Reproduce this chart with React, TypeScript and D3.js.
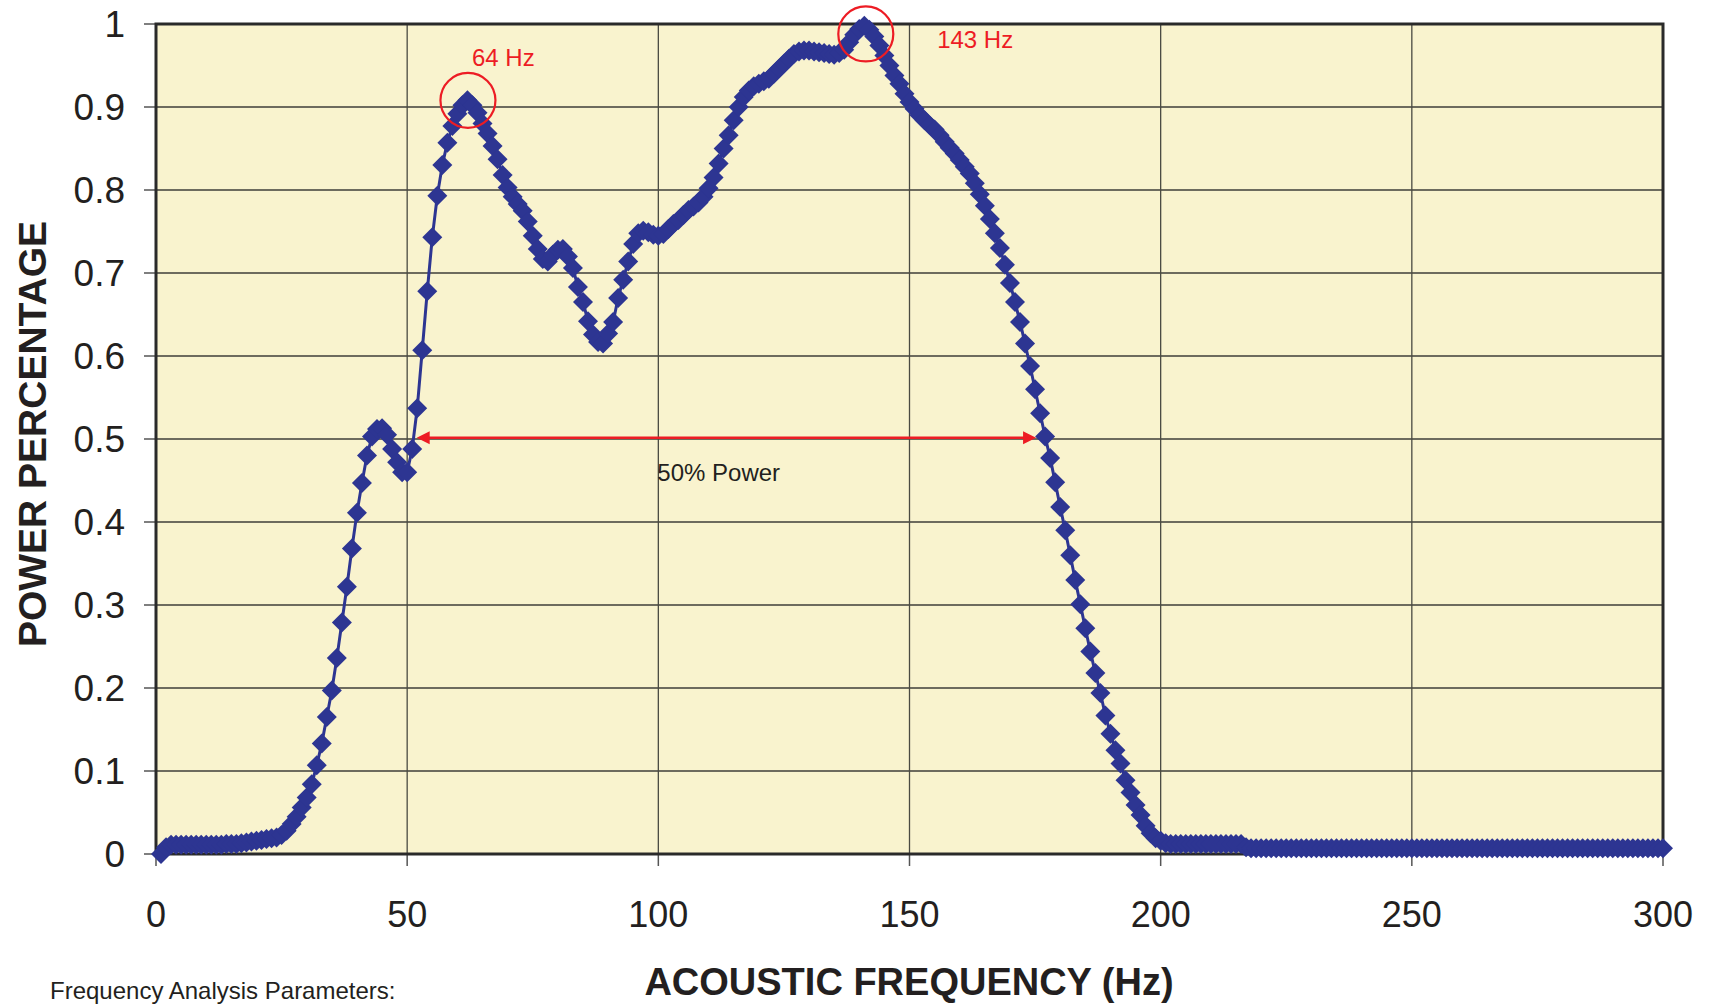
import React, { useEffect } from 'react';
import * as d3 from 'd3';

// Frequency grid of the spectrum (Hz) – first sample and spacing
const FREQ_START = 1;
const FREQ_STEP = 1;

// Normalised power, one value per frequency sample (1..300 Hz)
const POWER: number[] = [
  0.000, 0.008, 0.011, 0.011, 0.011, 0.011, 0.011, 0.011, 0.011, 0.011,
  0.011, 0.011, 0.011, 0.012, 0.012, 0.012, 0.013, 0.014, 0.015, 0.016,
  0.017, 0.018, 0.019, 0.020, 0.023, 0.028, 0.036, 0.045, 0.056, 0.068,
  0.084, 0.107, 0.133, 0.165, 0.197, 0.236, 0.279, 0.322, 0.368, 0.411,
  0.447, 0.480, 0.503, 0.512, 0.513, 0.505, 0.488, 0.472, 0.460, 0.460,
  0.488, 0.537, 0.607, 0.678, 0.743, 0.793, 0.830, 0.857, 0.877, 0.892,
  0.902, 0.908, 0.902, 0.893, 0.880, 0.868, 0.853, 0.837, 0.818, 0.803,
  0.792, 0.783, 0.775, 0.762, 0.745, 0.729, 0.717, 0.714, 0.722, 0.728,
  0.729, 0.720, 0.706, 0.683, 0.665, 0.642, 0.626, 0.617, 0.615, 0.627,
  0.641, 0.670, 0.692, 0.714, 0.735, 0.748, 0.751, 0.749, 0.746, 0.745,
  0.747, 0.753, 0.759, 0.764, 0.770, 0.776, 0.780, 0.785, 0.792, 0.802,
  0.815, 0.832, 0.850, 0.866, 0.884, 0.900, 0.912, 0.920, 0.925, 0.928,
  0.931, 0.934, 0.940, 0.946, 0.952, 0.958, 0.964, 0.967, 0.968, 0.968,
  0.967, 0.966, 0.965, 0.964, 0.963, 0.965, 0.969, 0.978, 0.987, 0.994,
  0.998, 0.993, 0.985, 0.974, 0.962, 0.950, 0.938, 0.928, 0.916, 0.906,
  0.898, 0.890, 0.884, 0.878, 0.873, 0.866, 0.858, 0.851, 0.844, 0.836,
  0.828, 0.820, 0.808, 0.795, 0.781, 0.765, 0.748, 0.730, 0.710, 0.688,
  0.665, 0.641, 0.615, 0.588, 0.560, 0.531, 0.503, 0.477, 0.448, 0.418,
  0.390, 0.360, 0.330, 0.301, 0.272, 0.244, 0.218, 0.194, 0.167, 0.145,
  0.125, 0.109, 0.089, 0.074, 0.059, 0.047, 0.034, 0.025, 0.019, 0.016,
  0.013, 0.012, 0.012, 0.012, 0.012, 0.012, 0.012, 0.012, 0.012, 0.012,
  0.012, 0.012, 0.012, 0.012, 0.012, 0.012, 0.008, 0.007, 0.007, 0.007,
  0.007, 0.007, 0.007, 0.007, 0.007, 0.007, 0.007, 0.007, 0.007, 0.007,
  0.007, 0.007, 0.007, 0.007, 0.007, 0.007, 0.007, 0.007, 0.007, 0.007,
  0.007, 0.007, 0.007, 0.007, 0.007, 0.007, 0.007, 0.007, 0.007, 0.007,
  0.007, 0.007, 0.007, 0.007, 0.007, 0.007, 0.007, 0.007, 0.007, 0.007,
  0.007, 0.007, 0.007, 0.007, 0.007, 0.007, 0.007, 0.007, 0.007, 0.007,
  0.007, 0.007, 0.007, 0.007, 0.007, 0.007, 0.007, 0.007, 0.007, 0.007,
  0.007, 0.007, 0.007, 0.007, 0.007, 0.007, 0.007, 0.007, 0.007, 0.007,
  0.007, 0.007, 0.007, 0.007, 0.007, 0.007, 0.007, 0.007, 0.007, 0.007,
];

const X_TICKS = [0, 50, 100, 150, 200, 250, 300];
const Y_TICKS = [0, 0.1, 0.2, 0.3, 0.4, 0.5, 0.6, 0.7, 0.8, 0.9, 1];
const Y_TICK_LABELS = ['0', '0.1', '0.2', '0.3', '0.4', '0.5', '0.6', '0.7', '0.8', '0.9', '1'];

// Peak annotations (data coordinates)
const PEAKS = [
  { f: 62.1, v: 0.908, label: '64 Hz', lf: 62.9, lv: 0.950 },
  { f: 141.3, v: 0.988, label: '143 Hz', lf: 155.5, lv: 0.971 },
];
// 50% power bandwidth arrow
const HALF_POWER = { from: 51.9, to: 175.2, v: 0.5015, label: '50% Power', lf: 99.8, lv: 0.449 };

const W = 1710;
const H = 1005;
const M = { left: 156, right: 1663, top: 24, bottom: 854 };

const NAVY = '#2D3592';
const RED = '#ED1C24';
const INK = '#231F20';
const FONT = '"Liberation Sans", Arial, Helvetica, sans-serif';

export default function App() {
  useEffect(() => {
    document.body.style.margin = '0';
    document.body.style.overflow = 'hidden';
  }, []);

  const x = d3.scaleLinear().domain([0, 300]).range([M.left, M.right]);
  const y = d3.scaleLinear().domain([0, 1]).range([M.bottom, M.top]);

  const pts = POWER.map((v, i) => ({ f: FREQ_START + i * FREQ_STEP, v }));
  const line = d3
    .line<{ f: number; v: number }>()
    .x((d) => x(d.f))
    .y((d) => y(d.v));

  const r = 10;
  const diamond = `M0,${-r}L${r},0L0,${r}L${-r},0Z`;

  const ay = y(HALF_POWER.v);
  const ax1 = x(HALF_POWER.from);
  const ax2 = x(HALF_POWER.to);
  const ah = 13;
  const aw = 6.5;

  return (
    <svg
      width={W}
      height={H}
      style={{ position: 'absolute', left: 0, top: 0, display: 'block' }}
      fontFamily={FONT}
    >
      <rect x={0} y={0} width={W} height={H} fill="#ffffff" />
      {/* plot area */}
      <rect x={M.left} y={M.top} width={M.right - M.left} height={M.bottom - M.top} fill="#F9F3CE" />

      {/* gridlines */}
      {Y_TICKS.slice(1, -1).map((t) => (
        <line key={'gy' + t} x1={M.left} x2={M.right} y1={y(t)} y2={y(t)} stroke="#3E3E38" strokeWidth={1.3} />
      ))}
      {X_TICKS.slice(1, -1).map((t) => (
        <line key={'gx' + t} x1={x(t)} x2={x(t)} y1={M.top} y2={M.bottom} stroke="#4A4A42" strokeWidth={1.3} />
      ))}

      {/* ticks */}
      {Y_TICKS.map((t) => (
        <line key={'ty' + t} x1={M.left - 12} x2={M.left} y1={y(t)} y2={y(t)} stroke="#555" strokeWidth={1.5} />
      ))}
      {X_TICKS.map((t) => (
        <line key={'tx' + t} x1={x(t)} x2={x(t)} y1={M.bottom} y2={M.bottom + 12} stroke="#555" strokeWidth={1.5} />
      ))}

      {/* border */}
      <rect
        x={M.left}
        y={M.top}
        width={M.right - M.left}
        height={M.bottom - M.top}
        fill="none"
        stroke="#2A2A2A"
        strokeWidth={3}
      />

      {/* tick labels */}
      {Y_TICKS.map((t, i) => (
        <text key={'ly' + t} x={125} y={y(t)} dy="0.36em" textAnchor="end" fontSize={37} fill={INK}>
          {Y_TICK_LABELS[i]}
        </text>
      ))}
      {X_TICKS.map((t) => (
        <text key={'lx' + t} x={x(t)} y={927} textAnchor="middle" fontSize={36} fill={INK}>
          {t}
        </text>
      ))}

      {/* axis titles */}
      <text
        transform={`translate(46,434) rotate(-90)`}
        textAnchor="middle"
        fontSize={39}
        fontWeight="bold"
        fill={INK}
      >
        POWER PERCENTAGE
      </text>
      <text x={909} y={995} textAnchor="middle" fontSize={38} fontWeight="bold" fill={INK}>
        ACOUSTIC FREQUENCY (Hz)
      </text>
      <text x={50} y={999} fontSize={24} fill={INK}>
        Frequency Analysis Parameters:
      </text>

      {/* series */}
      <path d={line(pts) || ''} fill="none" stroke={NAVY} strokeWidth={3} />
      {pts.map((d, i) => (
        <path key={'m' + i} d={diamond} transform={`translate(${x(d.f)},${y(d.v)})`} fill={NAVY} />
      ))}

      {/* 50% power arrow */}
      <line x1={ax1 + ah - 1} x2={ax2 - ah + 1} y1={ay} y2={ay} stroke={RED} strokeWidth={2.6} />
      <path d={`M${ax1},${ay}L${ax1 + ah},${ay - aw}L${ax1 + ah},${ay + aw}Z`} fill={RED} />
      <path d={`M${ax2},${ay}L${ax2 - ah},${ay - aw}L${ax2 - ah},${ay + aw}Z`} fill={RED} />
      <text x={x(HALF_POWER.lf)} y={y(HALF_POWER.lv)} fontSize={24} fill={INK}>
        {HALF_POWER.label}
      </text>

      {/* peak annotations */}
      {PEAKS.map((p) => (
        <g key={p.label}>
          <circle cx={x(p.f)} cy={y(p.v)} r={27.5} fill="none" stroke={RED} strokeWidth={2.2} />
          <text x={x(p.lf)} y={y(p.lv)} fontSize={24} fill={RED}>
            {p.label}
          </text>
        </g>
      ))}
    </svg>
  );
}
